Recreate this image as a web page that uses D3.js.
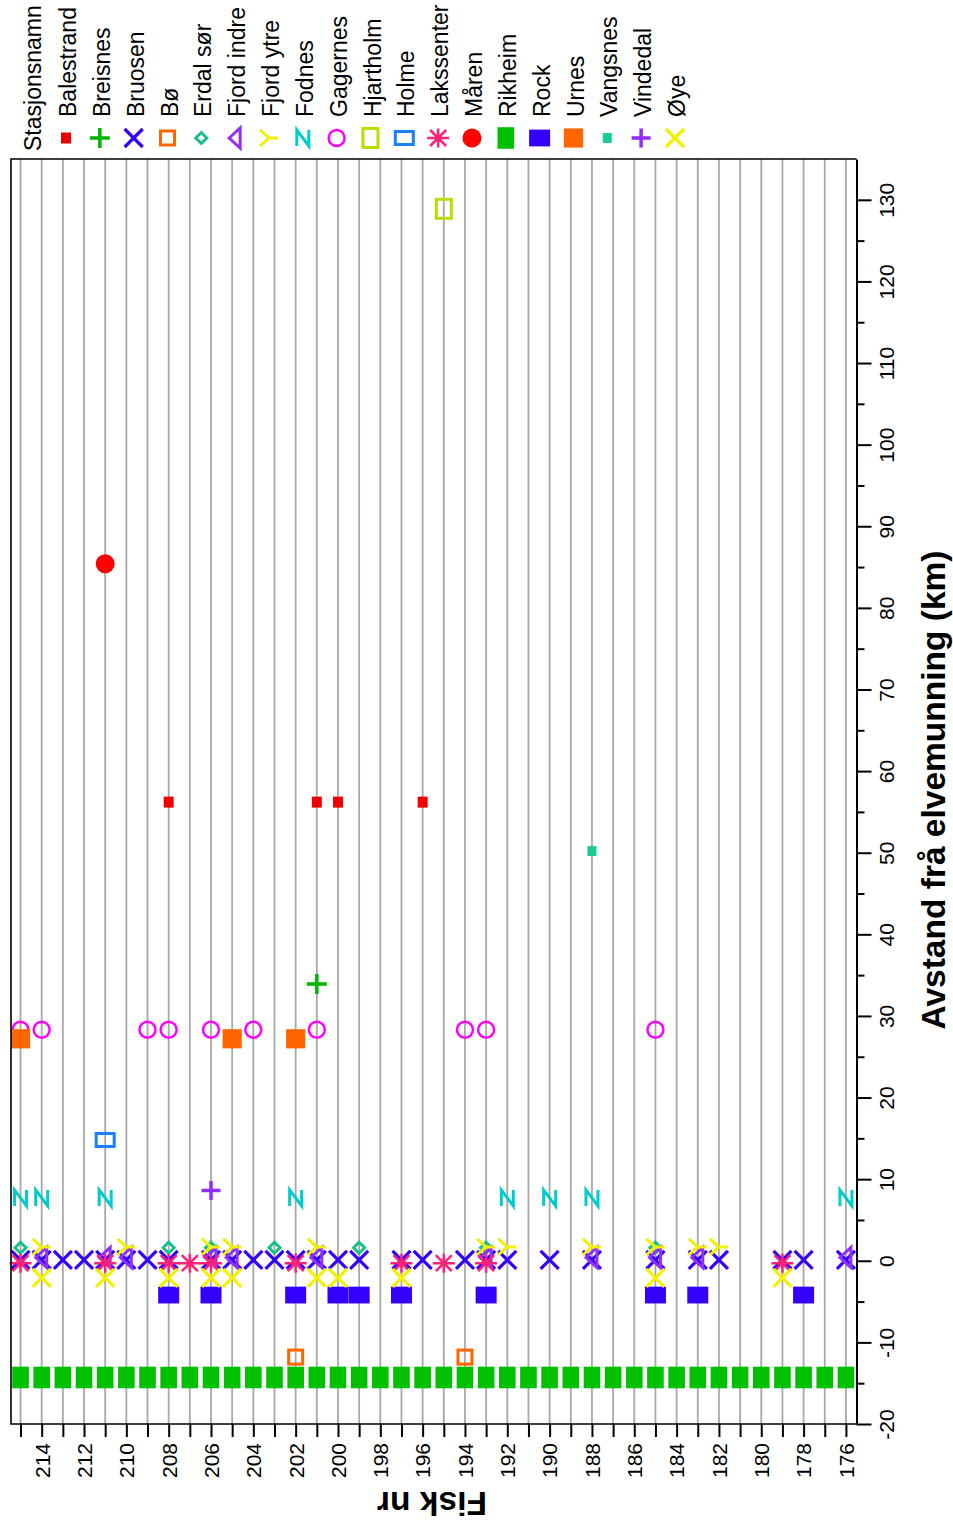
<!DOCTYPE html>
<html>
<head>
<meta charset="utf-8">
<script src="https://cdn.jsdelivr.net/npm/d3@7"></script>
<style>
body { margin: 0; background: #fff; }
text { font-family: Arial, "Liberation Sans", sans-serif; }
</style>
</head>
<body>
<script>
// fish numbers (one Rikheim record for each)
let fishAll = [215, 214, 213, 212, 211, 210, 209, 208, 207, 206, 205, 204, 203, 202, 201, 200, 199, 198,
               197, 196, 195, 194, 193, 192, 191, 190, 189, 188, 187, 186, 185, 184, 183, 182, 181, 180,
               179, 178, 177, 176];
let fishLabels = [214, 212, 210, 208, 206, 204, 202, 200, 198, 196, 194, 192, 190, 188, 186, 184, 182, 180, 178, 176];
let kmMajor = [-20, -10, 0, 10, 20, 30, 40, 50, 60, 70, 80, 90, 100, 110, 120, 130];
let kmMinor = [-15, -5, 5, 15, 25, 35, 45, 55, 65, 75, 85, 95, 105, 115, 125];

let stations = ["Balestrand", "Breisnes", "Bruosen", "Bø", "Erdal sør", "Fjord indre", "Fjord ytre", "Fodnes",
                "Gagernes", "Hjartholm", "Holme", "Lakssenter", "Måren", "Rikheim", "Rock", "Urnes",
                "Vangsnes", "Vindedal", "Øye"];
// distance from river mouth for each station (km)
let stationKm = [56.2, 33.9, 0.1, -11.8, 1.6, 0.4, 1.7, 7.7, 28.3, 128.9, 14.8, -0.3, 85.4, -14.3, -4.2, 27.2, 50.2, 8.6, -2.1];

let balestrandFish = [208, 201, 200, 196];
let breisnesFish = [201];
let bruosenFish = [215, 214, 213, 212, 211, 210, 209, 208, 206, 205, 204, 203, 202, 201, 200, 199, 197, 196,
                   194, 193, 192, 190, 188, 185, 183, 182, 179, 178, 176];
let boFish = [202, 194];
let erdalFish = [215, 208, 206, 203, 199, 193, 185];
let fjordIndreFish = [214, 211, 210, 206, 205, 201, 193, 188, 185, 183, 176];
let fjordYtreFish = [214, 210, 206, 205, 201, 193, 192, 188, 185, 183, 182];
let fodnesFish = [215, 214, 211, 202, 192, 190, 188, 176];
let gagernesFish = [215, 214, 209, 208, 206, 204, 201, 194, 193, 185];
let hjartholmFish = [195];
let holmeFish = [211];
let lakssenterFish = [215, 211, 208, 207, 206, 202, 197, 195, 193, 179];
let marenFish = [211];
let rikheimFish = fishAll;
let rockFish = [208, 206, 202, 200, 199, 197, 193, 185, 183, 178];
let urnesFish = [215, 205, 202];
let vangsnesFish = [188];
let vindedalFish = [206];
let oyeFish = [214, 211, 208, 206, 205, 201, 200, 197, 185, 179];

let stationFish = [balestrandFish, breisnesFish, bruosenFish, boFish, erdalFish, fjordIndreFish, fjordYtreFish,
                   fodnesFish, gagernesFish, hjartholmFish, holmeFish, lakssenterFish, marenFish, rikheimFish,
                   rockFish, urnesFish, vangsnesFish, vindedalFish, oyeFish];

// marker look per station
let symbols = ["smallsq", "plus", "cross", "opensq", "diamond", "tri", "ytri", "zed", "ring", "opentall",
               "openwide", "star", "dot", "tallsq", "widesq", "sq", "smallsq2", "plus2", "cross2"];
let colors = ["#ee0000", "#00b400", "#3300ff", "#ff6600", "#14c08c", "#9430ff", "#f0f000", "#00cccc",
              "#ff00ff", "#b4e000", "#1a80ff", "#ff2277", "#ff0000", "#00c000", "#3300ff", "#ff6600",
              "#19cc95", "#8f2cff", "#f2f200"];

let w = 953, h = 1529;
let pLeft = 11, pRight = 856.5, pTop = 159, pBottom = 1424;
let fontFam = "Arial, 'Liberation Sans', sans-serif";

let x = d3.scaleLinear().domain([215.45, 175.5]).range([pLeft, pRight]);
let y = d3.scaleLinear().domain([-20, 135]).range([pBottom, pTop]);

let svg = d3.select("body").append("svg")
            .attr("width", w)
            .attr("height", h);

function drawSymbol(g, type, color) {
  let sw = 3;
  if (type == "smallsq") {
    g.append("rect").attr("x", -5).attr("y", -5.5).attr("width", 10).attr("height", 11).attr("fill", color);
  } else if (type == "smallsq2") {
    g.append("rect").attr("x", -4.5).attr("y", -5).attr("width", 9).attr("height", 10).attr("fill", color);
  } else if (type == "plus") {
    g.append("path").attr("d", "M-10,0H10M0,-10V10").attr("stroke", color).attr("stroke-width", 3.5).attr("fill", "none");
  } else if (type == "plus2") {
    g.append("path").attr("d", "M-9.5,0H9.5M0,-9.5V9.5").attr("stroke", color).attr("stroke-width", 3.5).attr("fill", "none");
  } else if (type == "cross" || type == "cross2") {
    g.append("path").attr("d", "M-9,-9L9,9M-9,9L9,-9").attr("stroke", color).attr("stroke-width", 3.2).attr("fill", "none");
  } else if (type == "opensq") {
    g.append("rect").attr("x", -7).attr("y", -7).attr("width", 14).attr("height", 14)
     .attr("stroke", color).attr("stroke-width", sw).attr("fill", "none");
  } else if (type == "opentall") {
    g.append("rect").attr("x", -7.5).attr("y", -9.5).attr("width", 15).attr("height", 19)
     .attr("stroke", color).attr("stroke-width", sw).attr("fill", "none");
  } else if (type == "openwide") {
    g.append("rect").attr("x", -9).attr("y", -6.5).attr("width", 18).attr("height", 13)
     .attr("stroke", color).attr("stroke-width", sw).attr("fill", "none");
  } else if (type == "diamond") {
    g.append("path").attr("d", "M0,-5.5L5.5,0L0,5.5L-5.5,0Z").attr("stroke", color).attr("stroke-width", sw).attr("fill", "none");
  } else if (type == "tri") {
    g.append("path").attr("d", "M-6,0L5,-10L5,10Z").attr("stroke", color).attr("stroke-width", sw)
     .attr("fill", "none").attr("stroke-linejoin", "miter");
  } else if (type == "ytri") {
    g.append("path").attr("d", "M-9,-8L0,0L-9,8M0,0H9").attr("stroke", color).attr("stroke-width", sw).attr("fill", "none");
  } else if (type == "zed") {
    g.append("path").attr("d", "M-6,8V-8L6,8V-8").attr("stroke", color).attr("stroke-width", sw).attr("fill", "none");
  } else if (type == "ring") {
    g.append("circle").attr("r", 8).attr("stroke", color).attr("stroke-width", 2.5).attr("fill", "none");
  } else if (type == "star") {
    g.append("path").attr("d", "M-11,0H11M0,-9.5V9.5M-8,-8L8,8M-8,8L8,-8")
     .attr("stroke", color).attr("stroke-width", 2.5).attr("fill", "none");
  } else if (type == "dot") {
    g.append("circle").attr("r", 9.5).attr("fill", color);
  } else if (type == "tallsq") {
    g.append("rect").attr("x", -8.3).attr("y", -10.8).attr("width", 16.6).attr("height", 21.6).attr("fill", color);
  } else if (type == "widesq") {
    g.append("rect").attr("x", -10.5).attr("y", -8.4).attr("width", 21).attr("height", 16.8).attr("fill", color);
  } else if (type == "sq") {
    g.append("rect").attr("x", -9.6).attr("y", -9.6).attr("width", 19.2).attr("height", 19.2).attr("fill", color);
  }
}

// grid lines, one per fish
svg.append("g")
   .selectAll("line")
   .data(fishAll)
   .join("line")
   .attr("x1", d => x(d))
   .attr("x2", d => x(d))
   .attr("y1", pTop)
   .attr("y2", pBottom)
   .attr("stroke", "#a8a8a8")
   .attr("stroke-width", 1.8);

// points
let marks = svg.append("g").attr("id", "marks");
stations.forEach((s, i) => {
  marks.append("g")
       .selectAll("g")
       .data(stationFish[i])
       .join("g")
       .attr("transform", d => "translate(" + x(d) + "," + y(stationKm[i]) + ")")
       .each(function() { drawSymbol(d3.select(this), symbols[i], colors[i]); });
});

// frame
svg.append("path")
   .attr("d", "M" + pRight + "," + pTop + "H" + pLeft + "V" + pBottom + "H" + pRight)
   .attr("fill", "none")
   .attr("stroke", "#000")
   .attr("stroke-width", 1.6);

// fish axis (bottom)
let gx = svg.append("g")
            .attr("transform", "translate(0," + pBottom + ")")
            .call(d3.axisBottom(x).tickValues(fishAll).tickSize(13).tickSizeOuter(0)
                    .tickFormat(d => fishLabels.includes(d) ? String(d) : ""))
            .attr("font-size", 21)
            .attr("font-family", fontFam);
gx.select(".domain").remove();
gx.selectAll(".tick line").attr("stroke-width", 2);
gx.selectAll(".tick text")
  .attr("transform", "rotate(-90)")
  .attr("x", -19)
  .attr("y", 0)
  .attr("dy", "0.35em")
  .attr("text-anchor", "end");

// distance axis (right)
let gyMinor = svg.append("g")
                 .attr("transform", "translate(" + pRight + ",0)")
                 .call(d3.axisRight(y).tickValues(kmMinor).tickSize(8).tickFormat(""));
gyMinor.select(".domain").remove();
gyMinor.selectAll(".tick line").attr("stroke-width", 2);

let gy = svg.append("g")
            .attr("transform", "translate(" + pRight + ",0)")
            .call(d3.axisRight(y).tickValues(kmMajor).tickSize(15).tickSizeOuter(0)
                    .tickFormat(d => String(d)))
            .attr("font-size", 21)
            .attr("font-family", fontFam);
gy.select(".domain").attr("stroke-width", 2);
gy.selectAll(".tick line").attr("stroke-width", 2);
gy.selectAll(".tick text")
  .attr("transform", "rotate(-90)")
  .attr("x", 0)
  .attr("y", 30)
  .attr("dy", "0.35em")
  .attr("text-anchor", "middle");

// axis titles
svg.append("text")
   .attr("transform", "translate(933,790) rotate(-90)")
   .attr("dy", "0.35em")
   .attr("text-anchor", "middle")
   .style("font-size", "33.5px")
   .style("font-weight", "bold")
   .text("Avstand frå elvemunning (km)");

svg.append("text")
   .attr("transform", "translate(432,1504) rotate(180)")
   .attr("dy", "0.35em")
   .attr("text-anchor", "middle")
   .style("font-size", "33.5px")
   .style("font-weight", "bold")
   .text("Fisk nr");

// legend
let legend = svg.append("g").attr("id", "legend");
legend.append("text")
      .attr("transform", "translate(33,151) rotate(-90)")
      .attr("dy", "0.35em")
      .style("font-size", "23px")
      .text("Stasjonsnamn");

let item = legend.selectAll(".legend")
                 .data(stations)
                 .join("g")
                 .attr("class", "legend")
                 .attr("transform", (d, i) => "translate(" + (66 + i * 33.83) + ",0)");

item.append("g")
    .attr("transform", "translate(0,138)")
    .each(function(d, i) { drawSymbol(d3.select(this), symbols[i], colors[i]); });

item.append("text")
    .attr("transform", "translate(2,117) rotate(-90)")
    .attr("dy", "0.35em")
    .style("font-size", "23px")
    .text(d => d);
</script>
</body>
</html>
